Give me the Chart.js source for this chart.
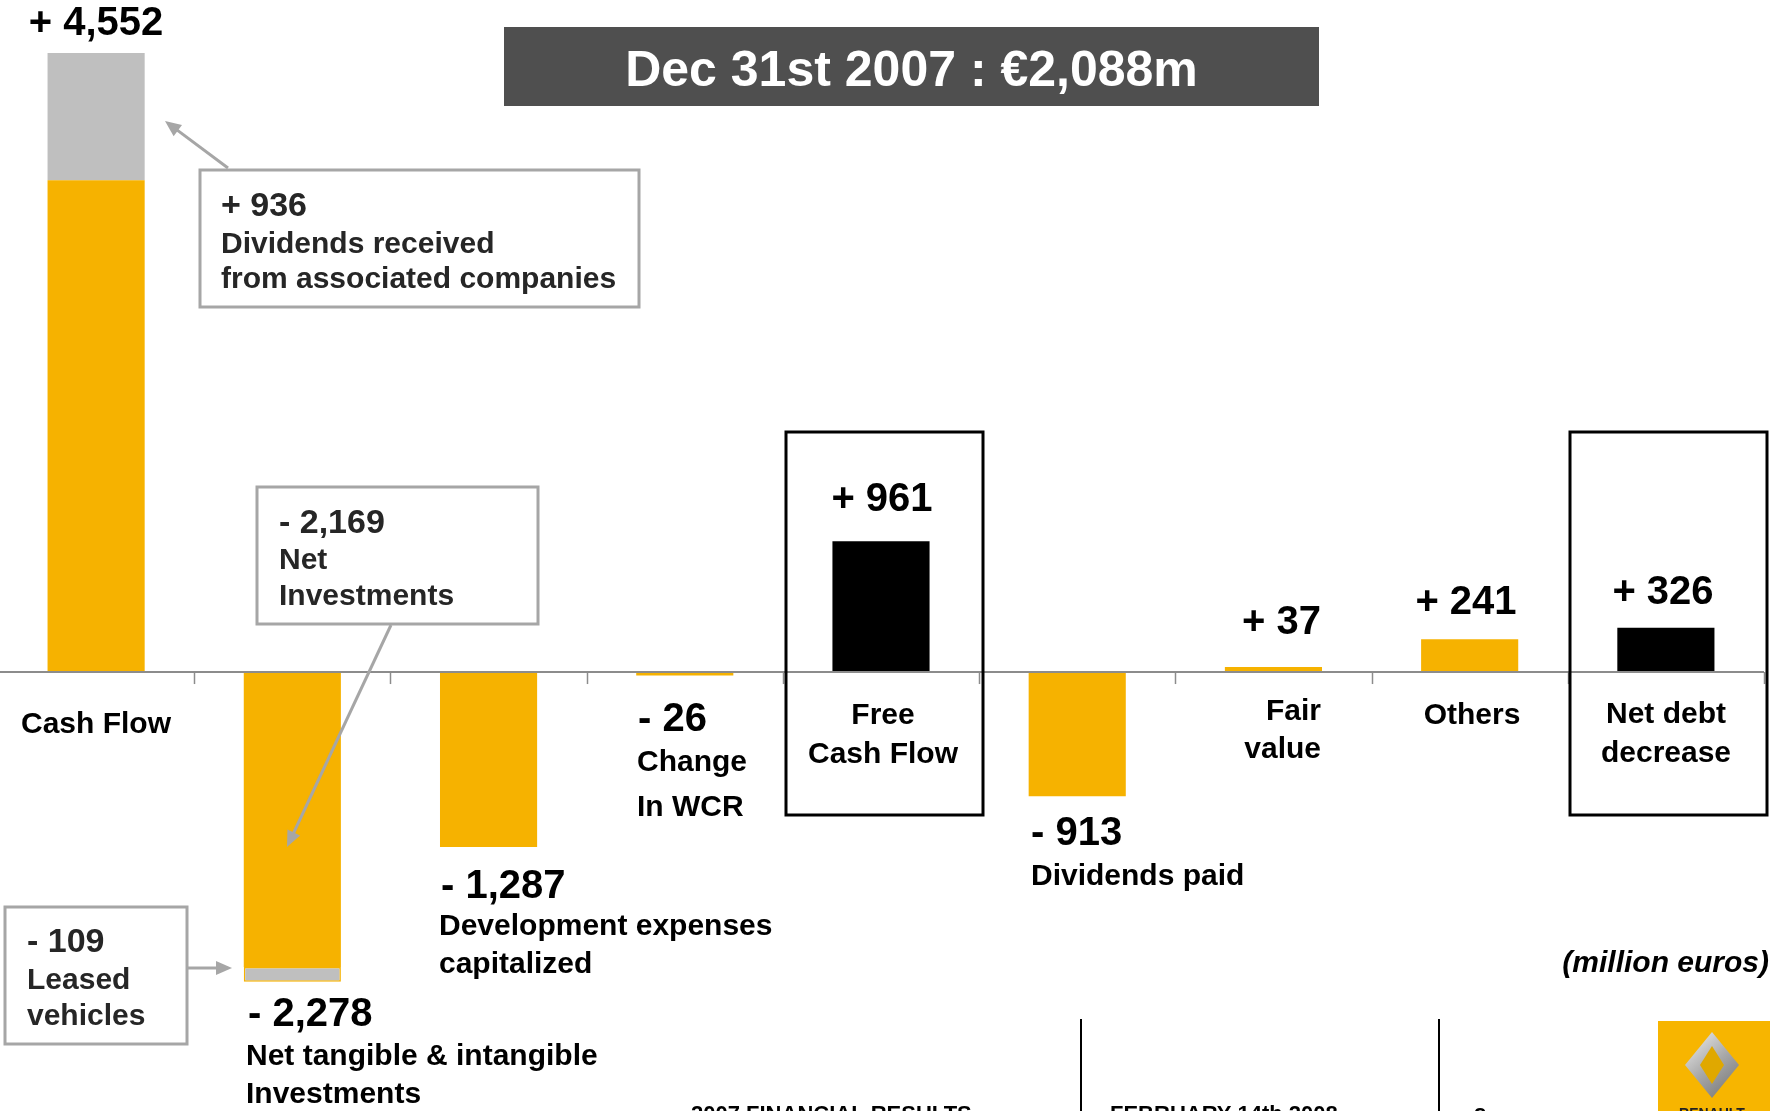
<!DOCTYPE html>
<html>
<head>
<meta charset="utf-8">
<script src="https://cdn.jsdelivr.net/npm/chart.js@4/dist/chart.umd.min.js"></script>
<style>
  html, body { margin: 0; padding: 0; background: #ffffff; overflow: hidden; }
  #wrap { position: absolute; left: -2px; top: 0; width: 1772px; height: 1111px; }
</style>
</head>
<body>
<div id="wrap"><canvas id="c" width="1772" height="1111"></canvas></div>
<script>
// ---------------- DATA ----------------
const categories = [
  ["Cash Flow"],
  ["Net tangible & intangible", "Investments"],
  ["Development expenses", "capitalized"],
  ["Change", "In WCR"],
  ["Free", "Cash Flow"],
  ["Dividends paid"],
  ["Fair", "value"],
  ["Others"],
  ["Net debt", "decrease"]
];
// main (first) segment of each bar, in million euros
const mainValues = [3616, -2169, -1287, -26, 961, -913, 37, 241, 326];
// secondary grey segment (dividends received / leased vehicles)
const subValues = [936, -109, 0, 0, 0, 0, 0, 0, 0];
// totals shown as bar labels
const totalValues = [4552, -2278, -1287, -26, 961, -913, 37, 241, 326];
// call-out boxes
const calloutValues = [936, -2169, -109];
const calloutTexts = [
  ["Dividends received", "from associated companies"],
  ["Net", "Investments"],
  ["Leased", "vehicles"]
];
const titleText = "Dec 31st 2007 : \u20AC2,088m";
const unitText = "(million euros)";
const footerTexts = ["2007 FINANCIAL RESULTS", "FEBRUARY 14th 2008", "8"];

// ---------------- STYLE ----------------
const ORANGE = "#F6B200";
const GREY = "#BFBFBF";
const BLACK = "#000000";
const BOX_GREY = "#A6A6A6";
const FAM = '"Liberation Sans", Arial, Helvetica, sans-serif';
const totalIdx = new Set([4, 8]);
const OX = 2; // canvas is shifted 2px left of the page

function fmt(v) {
  return (v < 0 ? "- " : "+ ") + Math.abs(v).toLocaleString("en-US");
}

function drawLines(ctx, lines, x, y, gap, align, font, color) {
  ctx.save();
  ctx.font = font;
  ctx.fillStyle = color;
  ctx.textAlign = align;
  ctx.textBaseline = "alphabetic";
  lines.forEach((t, i) => ctx.fillText(t, x, y + i * gap));
  ctx.restore();
}

function arrow(ctx, x1, y1, x2, y2) {
  const ang = Math.atan2(y2 - y1, x2 - x1);
  const L = 16, W = 7;
  ctx.save();
  ctx.strokeStyle = BOX_GREY;
  ctx.fillStyle = BOX_GREY;
  ctx.lineWidth = 3;
  ctx.beginPath();
  ctx.moveTo(x1, y1);
  ctx.lineTo(x2 - Math.cos(ang) * (L - 2), y2 - Math.sin(ang) * (L - 2));
  ctx.stroke();
  ctx.beginPath();
  ctx.moveTo(x2, y2);
  ctx.lineTo(x2 - Math.cos(ang) * L - Math.sin(ang) * W, y2 - Math.sin(ang) * L + Math.cos(ang) * W);
  ctx.lineTo(x2 - Math.cos(ang) * L + Math.sin(ang) * W, y2 - Math.sin(ang) * L - Math.cos(ang) * W);
  ctx.closePath();
  ctx.fill();
  ctx.restore();
}

// label layout (page pixels, alphabetic baselines)
const valueLayout = [
  { x: 96, y: 35, a: "center" },
  { x: 248, y: 1026, a: "left" },
  { x: 441, y: 898, a: "left" },
  { x: 638, y: 731, a: "left" },
  { x: 882, y: 511, a: "center" },
  { x: 1031, y: 845, a: "left" },
  { x: 1321, y: 634, a: "right" },
  { x: 1466, y: 614, a: "center" },
  { x: 1663, y: 604, a: "center" }
];
const catLayout = [
  { x: 96, y: 733, a: "center", g: 38 },
  { x: 246, y: 1065, a: "left", g: 38 },
  { x: 439, y: 935, a: "left", g: 38 },
  { x: 637, y: 771, a: "left", g: 45 },
  { x: 883, y: 724, a: "center", g: 39 },
  { x: 1031, y: 885, a: "left", g: 38 },
  { x: 1321, y: 720, a: "right", g: 38 },
  { x: 1472, y: 724, a: "center", g: 38 },
  { x: 1666, y: 723, a: "center", g: 39 }
];
const calloutLayout = [
  { box: [200, 170, 639, 307], x: 221, y: 216, g: 37, g2: 35 },
  { box: [257, 487, 538, 624], x: 279, y: 533, g: 36, g2: 36 },
  { box: [5, 907, 187, 1044], x: 27, y: 952, g: 37, g2: 36 }
];

const overlay = {
  id: "overlay",
  afterDatasetsDraw(chart) {
    const ctx = chart.ctx;
    const xs = chart.scales.x, ys = chart.scales.y;
    const y0 = ys.getPixelForValue(0);
    const cw = xs.getPixelForValue(1) - xs.getPixelForValue(0);

    // zero line & tick marks (scale coordinates)
    ctx.save();
    ctx.strokeStyle = "#8C8C8C";
    ctx.lineWidth = 2;
    ctx.beginPath();
    ctx.moveTo(0, y0);
    ctx.lineTo(xs.getPixelForValue(categories.length - 1) + cw / 2, y0);
    ctx.stroke();
    ctx.lineWidth = 1.5;
    for (let i = 0; i < categories.length; i++) {
      const bx = Math.round(xs.getPixelForValue(i) + cw / 2) + 0.5;
      ctx.beginPath();
      ctx.moveTo(bx, y0);
      ctx.lineTo(bx, y0 + 12);
      ctx.stroke();
    }
    ctx.restore();

    // everything else in page coordinates
    ctx.save();
    ctx.translate(OX, 0);

    // highlight boxes around totals
    ctx.save();
    ctx.strokeStyle = BLACK;
    ctx.lineWidth = 3;
    ctx.strokeRect(786, 432, 197, 383);
    ctx.strokeRect(1570, 432, 197, 383);
    ctx.restore();

    // title
    ctx.save();
    ctx.fillStyle = "#4F4F4F";
    ctx.fillRect(504, 27, 815, 79);
    ctx.restore();
    drawLines(ctx, [titleText], 911.5, 86, 0, "center", "bold 50px " + FAM, "#FFFFFF");

    // value labels
    totalValues.forEach((v, i) => {
      const L = valueLayout[i];
      drawLines(ctx, [fmt(v)], L.x, L.y, 0, L.a, "bold 40px " + FAM, BLACK);
    });
    // category labels
    categories.forEach((lines, i) => {
      const L = catLayout[i];
      drawLines(ctx, lines, L.x, L.y, L.g, L.a, "bold 30px " + FAM, BLACK);
    });

    // call-out boxes
    calloutLayout.forEach((C, i) => {
      const [x1, y1, x2, y2] = C.box;
      ctx.save();
      ctx.fillStyle = "#FFFFFF";
      ctx.fillRect(x1, y1, x2 - x1, y2 - y1);
      ctx.strokeStyle = BOX_GREY;
      ctx.lineWidth = 3;
      ctx.strokeRect(x1, y1, x2 - x1, y2 - y1);
      ctx.restore();
      drawLines(ctx, [fmt(calloutValues[i])], C.x, C.y, 0, "left", "bold 34px " + FAM, "#262626");
      drawLines(ctx, calloutTexts[i], C.x, C.y + C.g, C.g2, "left", "bold 30px " + FAM, "#262626");
    });
    // arrows
    arrow(ctx, 228, 168, 165, 121);
    arrow(ctx, 391, 625, 287, 847);
    arrow(ctx, 188, 968, 232, 968);

    // unit
    drawLines(ctx, [unitText], 1769, 972, 0, "right", "italic bold 30px " + FAM, BLACK);

    // footer
    ctx.save();
    ctx.strokeStyle = BLACK;
    ctx.lineWidth = 2;
    [1081, 1439].forEach(x => {
      ctx.beginPath(); ctx.moveTo(x, 1019); ctx.lineTo(x, 1111); ctx.stroke();
    });
    ctx.restore();
    drawLines(ctx, [footerTexts[0]], 691, 1121, 0, "left", "bold 22px " + FAM, BLACK);
    drawLines(ctx, [footerTexts[1]], 1110, 1121, 0, "left", "bold 22px " + FAM, BLACK);
    drawLines(ctx, [footerTexts[2]], 1474, 1123, 0, "left", "bold 22px " + FAM, BLACK);

    // logo
    ctx.save();
    ctx.fillStyle = "#F7B500";
    ctx.fillRect(1658, 1021, 112, 90);
    const cx = 1712, cy = 1065;
    const g = ctx.createLinearGradient(1685, 1032, 1740, 1098);
    g.addColorStop(0, "#F2F2F2");
    g.addColorStop(0.5, "#A8A8A8");
    g.addColorStop(1, "#6E6E6E");
    ctx.fillStyle = g;
    ctx.beginPath();
    ctx.moveTo(cx, cy - 33); ctx.lineTo(cx + 27, cy); ctx.lineTo(cx, cy + 33); ctx.lineTo(cx - 27, cy);
    ctx.closePath(); ctx.fill();
    ctx.fillStyle = "#E0A800";
    ctx.beginPath();
    ctx.moveTo(cx, cy - 19); ctx.lineTo(cx + 12, cy); ctx.lineTo(cx, cy + 19); ctx.lineTo(cx - 12, cy);
    ctx.closePath(); ctx.fill();
    ctx.restore();
    drawLines(ctx, ["RENAULT"], 1712, 1118, 0, "center", "bold 14px " + FAM, "#222");

    ctx.restore();
  }
};

new Chart(document.getElementById("c"), {
  type: "bar",
  data: {
    labels: categories.map(l => l.join(" ")),
    datasets: [
      {
        data: mainValues,
        stack: "s",
        backgroundColor: ctx => totalIdx.has(ctx.dataIndex) ? BLACK : ORANGE,
        borderWidth: 0
      },
      {
        data: subValues,
        stack: "s",
        backgroundColor: GREY,
        borderColor: ORANGE,
        borderWidth: ctx => (ctx.raw < 0 ? 1.5 : 0),
        borderSkipped: false
      }
    ]
  },
  options: {
    responsive: false,
    animation: false,
    devicePixelRatio: 1,
    layout: { padding: { left: 0, right: 6, top: 0, bottom: 0 } },
    categoryPercentage: 1,
    barPercentage: 0.495,
    plugins: { legend: { display: false }, tooltip: { enabled: false } },
    scales: {
      x: { display: false, stacked: true, offset: true },
      y: { display: false, stacked: true, min: -3228, max: 4942 }
    }
  },
  plugins: [overlay]
});
</script>
</body>
</html>
